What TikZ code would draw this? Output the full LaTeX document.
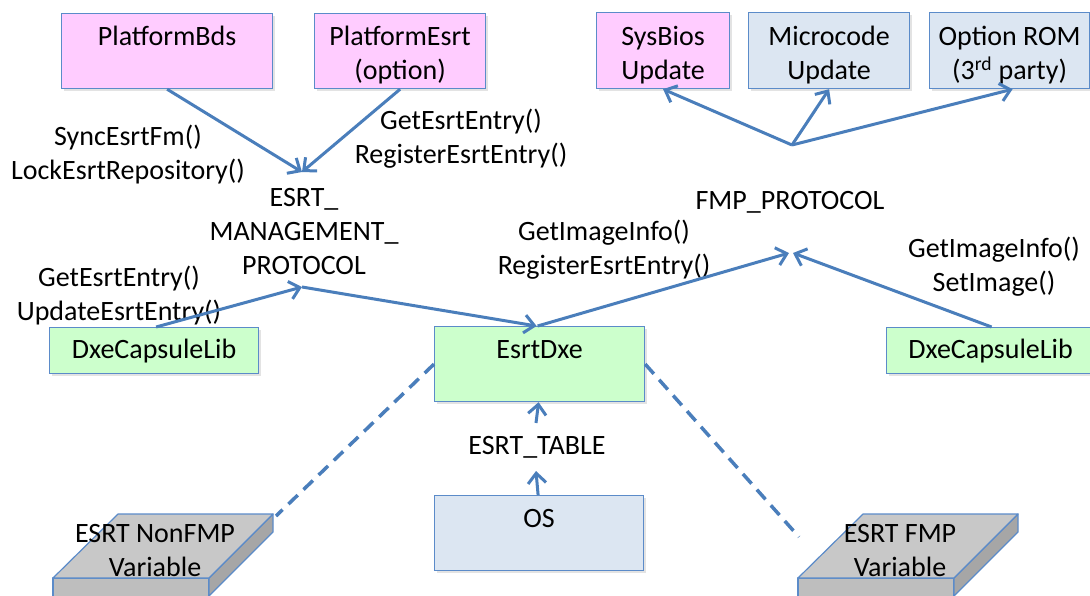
\documentclass[tikz,border=0pt]{standalone}
\usepackage{fontspec}
\setmainfont{Carlito}
\usetikzlibrary{arrows.meta,shadows,calc}

\definecolor{pinkfill}{HTML}{FFCCFF}
\definecolor{greenfill}{HTML}{CCFFCC}
\definecolor{bluefill}{HTML}{DCE6F2}
\definecolor{edgeblue}{HTML}{5B8BC9}
\definecolor{linkblue}{HTML}{4A7EBB}
\definecolor{slabtop}{HTML}{C8C8C8}
\definecolor{slabside}{HTML}{A6A6A6}
\definecolor{slabfront}{HTML}{BEBEBE}

\tikzset{
  txt/.style={font=\fontsize{28}{34}\selectfont, align=center, inner sep=0pt},
  boxbase/.style={txt, draw=edgeblue, line width=1.2pt, anchor=north west,
    drop shadow={shadow xshift=2pt, shadow yshift=-2pt, opacity=0.22}},
  % multi-line text sits on its last baseline, so the height covers all lines
  twoline/.style={boxbase, text height=60pt, text depth=3pt},
  oneline/.style={boxbase, text height=21pt, text depth=5pt},
  lbl/.style={txt, text height=20pt, text depth=6pt},
  lbltwo/.style={txt, text height=54pt, text depth=6pt},
  lblthree/.style={txt, text height=88pt, text depth=6pt},
  link/.style={draw=linkblue, line width=3pt,
    -{Straight Barb[length=10pt,width=18pt,line width=3pt]}},
  dashlink/.style={draw=linkblue, line width=3.5pt, dash pattern=on 13pt off 8pt},
  slabedge/.style={draw=edgeblue, line width=1.2pt, line join=round},
}

\begin{document}
\begin{tikzpicture}[x=1pt,y=-1pt]
\useasboundingbox (0,0) rectangle (1090,595);
\clip (0,0) rectangle (1090,595);

% top row: platform modules and update targets
\node[twoline, fill=pinkfill, minimum width=211pt, minimum height=75pt] (pbds) at (61,13) {PlatformBds\\\mbox{}};
\node[twoline, fill=pinkfill, minimum width=171pt, minimum height=75pt] (pesrt) at (314,13) {PlatformEsrt\\(option)};
\node[twoline, fill=pinkfill, minimum width=133pt, minimum height=76pt] (sysbios) at (596,12) {SysBios\\Update};
\node[twoline, fill=bluefill, minimum width=161pt, minimum height=76pt] (micro) at (748,12) {Microcode\\Update};
\node[twoline, fill=bluefill, minimum width=160pt, minimum height=76pt] (optrom) at (929,12) {Option ROM\\(3\textsuperscript{rd} party)};

% middle row: drivers and libraries
\node[oneline, fill=greenfill, minimum width=209pt, minimum height=46pt] (dcl) at (49,327) {DxeCapsuleLib};
\node[twoline, fill=greenfill, minimum width=210pt, minimum height=75pt] (esrt) at (434,326) {EsrtDxe\\\mbox{}};
\node[oneline, fill=greenfill, minimum width=208pt, minimum height=46pt] (dcr) at (886,327) {DxeCapsuleLib};

% bottom: OS
\node[twoline, fill=bluefill, minimum width=209pt, minimum height=75pt] (os) at (434,495) {OS\\\mbox{}};

% protocol names and interface labels
\node[lblthree] (emp) at (304,233) {ESRT\_\\MANAGEMENT\_\\PROTOCOL};
\node[lbltwo] (synclbl) at (128,155) {SyncEsrtFm()\\LockEsrtRepository()};
\node[lbltwo] (reglbl) at (461,139.5) {GetEsrtEntry()\\RegisterEsrtEntry()};
\node[lbltwo] (updlbl) at (119,296) {GetEsrtEntry()\\UpdateEsrtEntry()};
\node[lbl] (fmplbl) at (790,202) {FMP\_PROTOCOL};
\node[lbltwo] (imglbl) at (604,250) {GetImageInfo()\\RegisterEsrtEntry()};
\node[lbltwo] (setlbl) at (994,267) {GetImageInfo()\\SetImage()};
\node[lbl, outer ysep=11pt] (tbl) at (537,447) {ESRT\_TABLE};

% junction points of the protocol connectors
\coordinate (emT) at (302,172);
\coordinate (emB) at (302,287);
\coordinate (fan) at (792,145);
\coordinate (fmpL) at (789,253);
\coordinate (fmpR) at (793,253);

% variable store slabs
\coordinate (nfc) at (276,516);
\coordinate (fmc) at (799,537);
\foreach \dx in {0,745}{
  \begin{scope}[xshift=\dx pt]
    \path[slabedge, fill=slabfront] (53,578) -- (209,578) -- (209,600) -- (53,600) -- cycle;
    \path[slabedge, fill=slabside] (209,578) -- (273,514) -- (273,532) -- (209,596) -- cycle;
    \path[slabedge, fill=slabtop] (118,514) -- (273,514) -- (209,578) -- (53,578) -- cycle;
  \end{scope}
}
\node[lbltwo] (nonfmp) at (155,552) {ESRT NonFMP\\Variable};
\node[lbltwo] (fmpvar) at (900,552) {ESRT FMP\\Variable};

% connectors
\draw[link] (pbds.south) -- (emT);
\draw[link] (pesrt.south) -- (emT);
\draw[link] (fan) -- (sysbios.south);
\draw[link] (fan) -- (micro.south);
\draw[link] (fan) -- ([xshift=3pt]optrom.south);
\draw[link] ([xshift=2pt]dcl.north) -- (emB);
\draw[link] (emB) -- ([xshift=-3pt]esrt.north);
\draw[link] ([xshift=-2pt]esrt.north) -- (fmpL);
\draw[link] ([xshift=1pt]dcr.north) -- (fmpR);
\draw[link] ([xshift=-1pt]os.north) -- ([xshift=-1pt]tbl.south);
\draw[link] ([xshift=-1pt]tbl.north) -- ([xshift=-1pt]esrt.south);
\draw[dashlink] (esrt.west) -- (nfc);
\draw[dashlink] (esrt.east) -- (fmc);
\end{tikzpicture}
\end{document}
